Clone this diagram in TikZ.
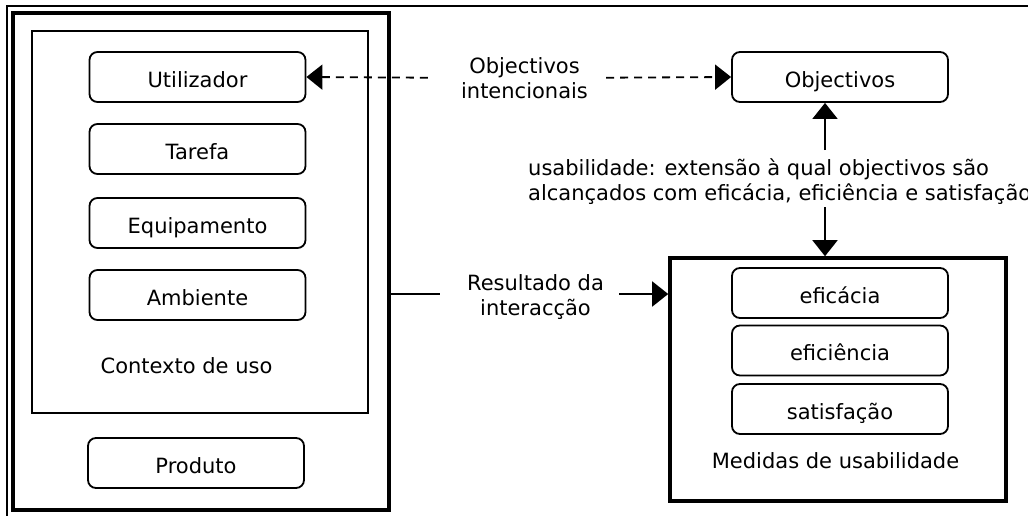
\documentclass[tikz,border=0pt]{standalone}
\usepackage{fontspec}
\setmainfont{DejaVu Sans}
\usetikzlibrary{arrows.meta,calc}
\tikzset{
  txt/.style={font=\fontsize{21}{25}\selectfont, inner sep=0pt},
  rbox/.style={draw, line width=1.8pt, rounded corners=8pt, minimum width=216pt, minimum height=50pt,
     inner sep=0pt, text height=20pt, text depth=0pt, font=\fontsize{21}{25}\selectfont},
  frame/.style={draw, line width=1.8pt, inner sep=0pt},
  thickframe/.style={draw, line width=3.6pt, inner sep=0pt},
  arr/.style={line width=1.8pt, -{Triangle[length=16pt,width=25pt]}},
  darr/.style={line width=1.8pt, dash pattern=on 8pt off 6pt, -{Triangle[length=16pt,width=25pt]}},
  plain/.style={line width=1.8pt}
}
\begin{document}
\begin{tikzpicture}[x=1pt,y=-1pt]
\useasboundingbox (0,0) rectangle (1028,515);
% outer thin frame (extends past the crop)
\draw[line width=1.6pt] (1040,6) -- (7,6) -- (7,530);
% left system box
\node[thickframe, minimum width=376pt, minimum height=497pt] (sys) at (201,261.5) {};
\node[frame, minimum width=336pt, minimum height=382pt] (ctx) at (200,222) {};
\node[rbox] (util) at (197.5,77) {Utilizador};
\node[rbox] (taref) at (197.5,149) {Tarefa};
\node[rbox] (equip) at (197.5,223) {Equipamento};
\node[rbox] (amb) at (197.5,295) {Ambiente};
\node[txt, anchor=base] (ctxlbl) at (186.5,373) {Contexto de uso};
\node[rbox] (prod) at (196,463) {Produto};
% objectives
\node[rbox] (obj) at (840,77) {Objectivos};
\node[txt, align=center] (intlbl) at (524.5,77.7) {Objectivos\\intencionais};
\draw[darr] ([xshift=-33pt]intlbl.west) -- (util.east);
\draw[darr] ([xshift=18pt]intlbl.east) -- (obj.west);
% usability definition
\node[txt, align=left, anchor=west] (uslbl) at (528,182) {usabilidade: extensão à qual objectivos são\\alcançados com eficácia, eficiência e satisfação};
\coordinate (upA) at (825,150);
\coordinate (dnA) at (825,207);
% measures box
\node[thickframe, minimum width=336pt, minimum height=243pt] (med) at (838,379.5) {};
\node[rbox] (efic) at (840,293) {eficácia};
\node[rbox] (efie) at (840,350.5) {eficiência};
\node[rbox] (sat) at (840,409) {satisfação};
\node[txt, anchor=base] (medlbl) at (835.5,468) {Medidas de usabilidade};
\draw[arr] (upA) -- (upA |- obj.south);
\draw[arr] (dnA) -- (dnA |- med.north);
% result of interaction
\node[txt, align=center] (reslbl) at (535.5,297) {Resultado da\\interacção};
\coordinate (resL) at (440,294);
\coordinate (resR) at (619,294);
\draw[plain] (resL -| sys.east) -- (resL);
\draw[arr] (resR) -- (resR -| med.west);
\end{tikzpicture}
\end{document}
